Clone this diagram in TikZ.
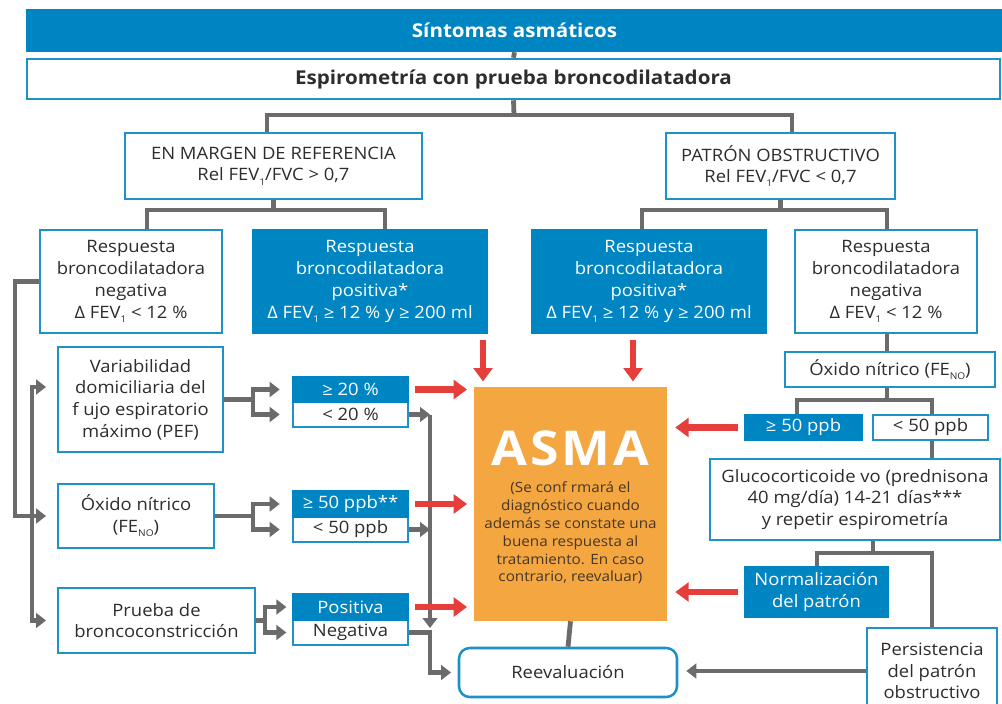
\documentclass[tikz,border=0pt]{standalone}
\usepackage{fontspec}
\setmainfont{Open Sans}[FakeStretch=1.08]
\usetikzlibrary{arrows.meta}
\definecolor{bblue}{RGB}{0,133,195}
\definecolor{bord}{RGB}{30,145,200}
\definecolor{lgray}{RGB}{109,106,110}
\definecolor{rred}{RGB}{230,62,58}
\definecolor{orng}{RGB}{244,166,64}
\definecolor{txt}{RGB}{45,45,45}
\definecolor{atxt}{RGB}{70,55,40}
\newcommand\sbs[1]{\raisebox{-0.45ex}{\fontsize{7}{7}\selectfont #1}}
\newcommand\bx[7][]{\node[#1, minimum width={(#4-#2)*0.75pt}, minimum height={(#5-#3)*0.75pt}] (#6) at ({(#2+#4)/2},{(#3+#5)/2}) {#7};}
\tikzset{
  wb/.style={draw=bord, line width=1.9pt, fill=white, text=txt, align=center, inner sep=0pt, font=\fontsize{12.8}{16.3}\selectfont},
  bb/.style={wb, fill=bblue, draw=bblue, text=white},
  ttl/.style={font=\bfseries\fontsize{14.3}{17}\selectfont},
  gl/.style={draw=lgray, line width=3.6pt},
  ga/.style={gl, -{Triangle[length=7.5pt,width=11pt]}},
  gaa/.style={gl, {Triangle[length=7.5pt,width=11pt]}-{Triangle[length=7.5pt,width=11pt]}},
  ra/.style={draw=rred, line width=5pt, -{Triangle[length=10pt,width=14pt]}}
}
\begin{document}
\begin{tikzpicture}[x=0.75pt, y=-0.75pt]
\useasboundingbox (0,0) rectangle (1002,703);
% ---- nodes
\bx[bb,ttl]{27}{10}{1002}{51}{top}{Síntomas asmáticos}
\bx[wb,ttl]{27}{59}{1000}{99}{esp}{Espirometría con prueba broncodilatadora}
\bx[wb]{125}{133}{422}{199}{margen}{EN MARGEN DE REFERENCIA\\Rel FEV\sbs{1}/FVC > 0,7}
\bx[wb]{666}{133}{895}{199}{patron}{PATRÓN OBSTRUCTIVO\\Rel FEV\sbs{1}/FVC < 0,7}
\bx[wb]{40}{230}{222}{333}{negL}{Respuesta\\broncodilatadora\\negativa\\Δ FEV\sbs{1} < 12 \%}
\bx[bb]{253}{230}{487}{333}{posL}{Respuesta\\broncodilatadora\\positiva*\\Δ FEV\sbs{1} ≥ 12 \% y ≥ 200 ml}
\bx[bb]{532}{230}{766}{333}{posR}{Respuesta\\broncodilatadora\\positiva*\\Δ FEV\sbs{1} ≥ 12 \% y ≥ 200 ml}
\bx[wb]{795}{230}{977}{333}{negR}{Respuesta\\broncodilatadora\\negativa\\Δ FEV\sbs{1} < 12 \%}
\bx[wb]{58}{347}{223}{452}{var}{Variabilidad\\domiciliaria del\\f ujo espiratorio\\máximo (PEF)}
\bx[wb]{58}{484}{214}{548}{oxL}{Óxido nítrico\\(FE\sbs{NO})}
\bx[wb]{58}{588}{255}{653}{prueba}{Prueba de\\broncoconstricción}
\bx[wb]{293}{402}{408}{427}{l20}{< 20 \%}
\bx[bb]{293}{377}{408}{402}{g20}{≥ 20 \%}
\bx[wb]{293}{517}{408}{542}{l50}{< 50 ppb}
\bx[bb]{293}{491}{408}{517}{g50}{≥ 50 ppb**}
\bx[wb]{293}{620}{408}{645}{neg}{Negativa}
\bx[bb]{293}{594}{408}{620}{pos}{Positiva}
\bx[fill=orng, inner sep=0pt]{474}{387}{667}{621}{asma}{}
\node[text=white, font=\bfseries\fontsize{36}{40}\selectfont\addfontfeatures{LetterSpace=6}] (asmaT) at (570.5,448) {ASMA};
\node[text=atxt, align=center, font=\fontsize{10.6}{13.35}\selectfont] (asmaS) at (570.5,533) {(Se conf rmará el\\diagnóstico cuando\\además se constate una\\buena respuesta al\\tratamiento. En caso\\contrario, reevaluar)};
\bx[wb, rounded corners=8pt]{459}{648}{677}{697}{reev}{Reevaluación}
\bx[wb]{785}{352}{995}{387}{oxR}{Óxido nítrico (FE\sbs{NO})}
\bx[bb]{745}{415}{862}{440}{g50R}{≥ 50 ppb}
\bx[wb]{873}{415}{988}{440}{l50R}{< 50 ppb}
\bx[wb]{710}{459}{1000}{540}{gluco}{Glucocorticoide vo (prednisona\\40 mg/día) 14-21 días***\\y repetir espirometría}
\bx[bb]{745}{567}{888}{617}{norm}{Normalización\\del patrón}
\bx[wb]{867}{628}{997}{714}{pers}{Persistencia\\del patrón\\obstructivo}
% ---- helper coordinates
\coordinate (j1) at (514,115);
\coordinate (j1L) at (267,115);
\coordinate (j1R) at (792,115);
\coordinate (j2L) at (147,210);
\coordinate (j2R) at (385,210);
\coordinate (j3L) at (642,210);
\coordinate (j3R) at (887,210);
\coordinate (j4L) at (797,400);
\coordinate (j4R) at (932,400);
\coordinate (j5L) at (817,553);
\coordinate (j5R) at (932,553);
\coordinate (j5M) at (873,553);
\coordinate (xa) at (483,0);
\coordinate (xb) at (633,0);
\coordinate (cL1) at (15,516);
\coordinate (cL2) at (32,387);
\coordinate (bv) at (253,402);
\coordinate (bo) at (253,516);
\coordinate (bp) at (265,620);
\coordinate (c1) at (430,414.5);
\coordinate (c2) at (430,628);
% ---- gray tree
\draw[gl] (top.south) -- (esp.north);
\draw[gl] (esp.south) -- (j1);
\draw[gl] (margen.north -| j1L) |- (j1R) -- (patron.north -| j1R);
\draw[gl] (margen.south) -- (margen.south |- j2L);
\draw[gl] (negL.north -| j2L) |- (j2R) -- (posL.north -| j2R);
\draw[gl] (patron.south) -- (patron.south |- j3L);
\draw[gl] (posR.north -| j3L) |- (j3R) -- (negR.north -| j3R);
\draw[gl] (negR.south -| j3R) -- (oxR.north -| j3R);
\draw[gl] (oxR.south -| j3R) -- (j3R |- j4L);
\draw[gl] (g50R.north -| j4L) |- (j4R) -- (l50R.north -| j4R);
\draw[gl] (l50R.south -| j4R) -- (gluco.north -| j4R);
\draw[gl] (gluco.south -| j5M) -- (j5M);
\draw[gl] (norm.north -| j5L) |- (j5R) -- (pers.north -| j5R);
\draw[ga, shorten >=6pt] (pers.west) -- (reev.east |- pers.west);
\draw[gl] (asma.south) -- (reev.north);
% ---- left gray
\draw[ga, shorten >=8pt] (negL.west) -| (cL1) -- (oxL.west);
\draw[gaa, shorten <=8pt, shorten >=8pt] (var.west |- cL2) -| (cL2 |- prueba.west) -- (prueba.west);
\draw[gl] (var.east) -- (var.east -| bv);
\draw[gaa, shorten <=9pt, shorten >=9pt] (g20.west) -| (l20.west -| bv) -- (l20.west);
\draw[gl] (oxL.east) -- (oxL.east -| bo);
\draw[gaa, shorten <=9pt, shorten >=9pt] (g50.west) -| (l50.west -| bo) -- (l50.west);
\draw[gl] (prueba.east) -- (prueba.east -| bp);
\draw[gaa, shorten <=4pt, shorten >=4pt] (pos.west) -| (neg.west -| bp) -- (neg.west);
% ---- collector
\draw[ga] (l20.east) -- (l20.east -| c1);
\draw[ga] (c1) -- (c2);
\draw[ga] (l50.east) -- (l50.east -| c1);
\draw[ga, shorten >=5pt] (neg.east) -| (reev.west -| c1) -- (reev.west);
% ---- red arrows
\draw[ra, shorten <=4pt, shorten >=4pt] (posL.south -| xa) -- (asma.north -| xa);
\draw[ra, shorten <=4pt, shorten >=4pt] (posR.south -| xb) -- (asma.north -| xb);
\draw[ra, shorten <=4pt, shorten >=5pt] (g20.east) -- (asma.west |- g20.east);
\draw[ra, shorten <=4pt, shorten >=5pt] (g50.east) -- (asma.west |- g50.east);
\draw[ra, shorten <=4pt, shorten >=5pt] (pos.east) -- (asma.west |- pos.east);
\draw[ra, shorten <=4pt, shorten >=6pt] (g50R.west) -- (asma.east |- g50R.west);
\draw[ra, shorten <=4pt, shorten >=6pt] (norm.west) -- (asma.east |- norm.west);
\end{tikzpicture}
\end{document}
